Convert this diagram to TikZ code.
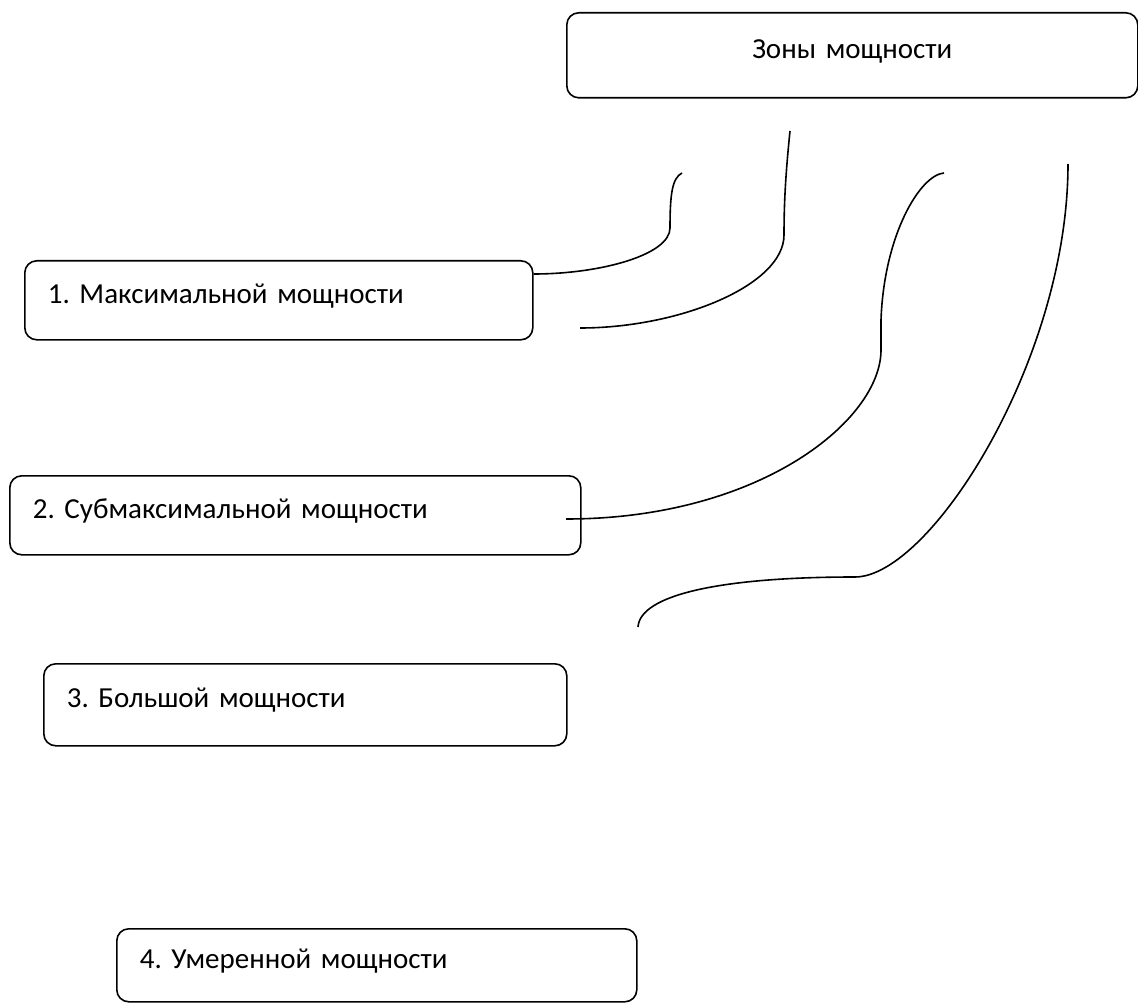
\documentclass[tikz,border=0pt]{standalone}
\usepackage{fontspec}
\setmainfont{Carlito}
\frenchspacing
\begin{document}
\begin{tikzpicture}[x=1pt,y=-1pt,
  zonebox/.style={draw=black, line width=1.6pt, rounded corners=12pt, anchor=north west,
    inner xsep=23pt, inner ysep=0pt, align=left, text height=22pt, text depth=16.4pt,
    font=\fontsize{29}{34}\selectfont},
  link/.style={draw=black, line width=1.6pt}]
\useasboundingbox (0,0) rectangle (1138,1003);
\node[zonebox, minimum width=571pt, minimum height=85pt, text width=525pt, align=center] (top) at (566,12) {Зоны мощности};
\node[zonebox, minimum width=508pt, minimum height=79pt, text width=462pt] (b1) at (24,260) {1. Максимальной мощности};
\node[zonebox, minimum width=571pt, minimum height=79pt, text width=525pt] (b2) at (9,475) {2. Субмаксимальной мощности};
\node[zonebox, minimum width=523pt, minimum height=82pt, text width=477pt] (b3) at (43,663) {3. Большой мощности};
\node[zonebox, minimum width=520pt, minimum height=73pt, text width=474pt] (b4) at (116,928) {4. Умеренной мощности};
% free ends of the connectors
\coordinate (c1a) at (682,173);
\coordinate (c1b) at (670,228);
\coordinate (c2a) at (790,131);
\coordinate (c2b) at (784,235);
\coordinate (c2c) at (580,328);
\coordinate (c3a) at (944,173);
\coordinate (c3b) at (881,320);
\coordinate (c3c) at (881,350);
\coordinate (c3d) at (566,519);
\coordinate (c4a) at (1068,164);
\coordinate (c4b) at (855,577);
\coordinate (c4c) at (638,627);
\draw[link] (c1a) .. controls (672,178) and (670,195) .. (c1b)
  .. controls (670,255) and (600,274) .. (b1.east |- 0,274);
\draw[link] (c2a) .. controls (786,170) and (784,200) .. (c2b)
  .. controls (784,285) and (680,328) .. (c2c);
\draw[link] (c3a) .. controls (920,175) and (884,235) .. (c3b) -- (c3c)
  .. controls (881,420) and (760,519) .. (c3d);
\draw[link] (c4a) .. controls (1068,360) and (930,577) .. (c4b)
  .. controls (720,577) and (640,595) .. (c4c);
\end{tikzpicture}
\end{document}
